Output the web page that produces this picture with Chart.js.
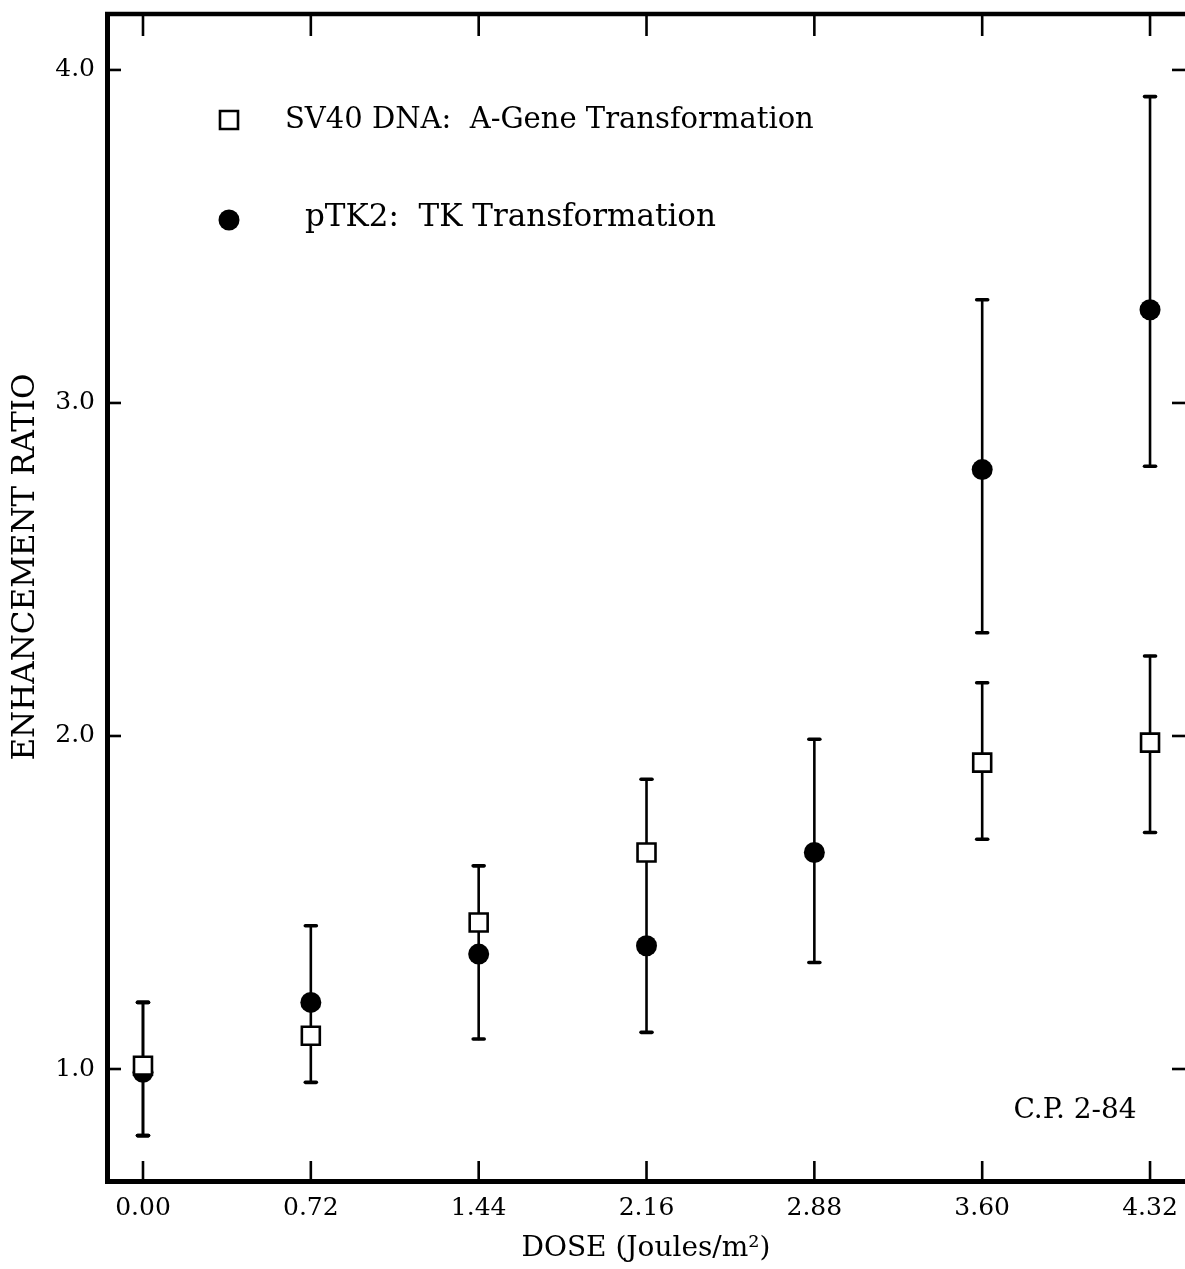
<!DOCTYPE html>
<html>
<head>
<meta charset="utf-8">
<title>Enhancement ratio vs dose</title>
<script src="https://cdn.jsdelivr.net/npm/chart.js@4.4.1/dist/chart.umd.min.js"></script>
<style>
  html, body { margin: 0; padding: 0; background: #ffffff; }
  #wrap { width: 1185px; height: 1269px; }
</style>
</head>
<body>
<div id="wrap"><canvas id="chart" width="1185" height="1269"></canvas></div>
<script>
// UV dose (J/m^2) at which each enhancement ratio was measured
const doses = [0.00, 0.72, 1.44, 2.16, 2.88, 3.60, 4.32];

// SV40 DNA: A-gene transformation (open squares)
const sv40Ratio = [1.01, 1.10, 1.44, 1.65, null, 1.92, 1.98];
const sv40Low   = [0.80, 0.96, 1.345, 1.37, null, 1.69, 1.71];
const sv40High  = [1.20, 1.20, 1.61, 1.87, null, 2.16, 2.24];

// pTK2: TK transformation (filled circles)
const ptkRatio = [0.99, 1.20, 1.345, 1.37, 1.65, 2.80, 3.28];
const ptkLow   = [0.80, 1.20, 1.09, 1.11, 1.32, 2.31, 2.81];
const ptkHigh  = [1.20, 1.43, 1.345, 1.37, 1.99, 3.31, 3.92];

// axis tick values
const xTickValues = [0.00, 0.72, 1.44, 2.16, 2.88, 3.60, 4.32];
const yTickValues = [1.0, 2.0, 3.0, 4.0];

const labelSV40 = 'SV40 DNA:  A-Gene Transformation';
const labelPTK = 'pTK2:  TK Transformation';
const yTitle = 'ENHANCEMENT RATIO';
const xTitle = 'DOSE (Joules/m\u00B2)';

const SERIF = "'DejaVu Serif', 'Liberation Serif', serif";
Chart.defaults.font.family = SERIF;
Chart.defaults.color = '#000000';

function points(values) {
  const out = [];
  values.forEach((v, i) => { if (v !== null) out.push({ x: doses[i], y: v }); });
  return out;
}

// keep the plot frame where the layout puts it, without extra room for overhanging labels
function noOverhang(scale) {
  scale.paddingLeft = 0;
  scale.paddingRight = 0;
  scale.paddingTop = 0;
  scale.paddingBottom = 0;
}

// vertical error bars with short caps, drawn beneath the markers
const errorBars = {
  id: 'errorBars',
  beforeDatasetsDraw(chart) {
    const ctx = chart.ctx;
    const xs = chart.scales.x, ys = chart.scales.y;
    ctx.save();
    ctx.strokeStyle = '#000';
    ctx.lineCap = 'round';
    chart.data.datasets.forEach(ds => {
      const vals = ds.ratio, lo = ds.low, hi = ds.high;
      vals.forEach((v, i) => {
        if (v === null) return;
        const px = xs.getPixelForValue(doses[i]);
        const yl = ys.getPixelForValue(lo[i]);
        const yh = ys.getPixelForValue(hi[i]);
        ctx.lineWidth = 2.6;
        ctx.beginPath();
        ctx.moveTo(px, yl);
        ctx.lineTo(px, yh);
        ctx.stroke();
        ctx.lineWidth = 3.6;
        [[lo[i], yl], [hi[i], yh]].forEach(([val, py]) => {
          if (val === v) return;
          ctx.beginPath();
          ctx.moveTo(px - 5.5, py);
          ctx.lineTo(px + 5.5, py);
          ctx.stroke();
        });
      });
    });
    ctx.restore();
  }
};

// frame, inward tick marks, dose labels, axis title, legend and plate note
const frameAndNotes = {
  id: 'frameAndNotes',
  afterDraw(chart) {
    const ctx = chart.ctx;
    const a = chart.chartArea;
    const xs = chart.scales.x, ys = chart.scales.y;
    ctx.save();
    ctx.strokeStyle = '#000';
    ctx.fillStyle = '#000';

    // top frame line
    ctx.lineWidth = 4.5;
    ctx.beginPath();
    ctx.moveTo(a.left - 2, a.top);
    ctx.lineTo(a.right, a.top);
    ctx.stroke();

    // ticks along top and bottom edges, with dose labels below
    ctx.lineWidth = 2.6;
    ctx.font = '25px ' + SERIF;
    ctx.textAlign = 'center';
    ctx.textBaseline = 'middle';
    xTickValues.forEach(v => {
      const px = xs.getPixelForValue(v);
      ctx.beginPath();
      ctx.moveTo(px, a.top);
      ctx.lineTo(px, a.top + 22);
      ctx.stroke();
      ctx.beginPath();
      ctx.moveTo(px, a.bottom);
      ctx.lineTo(px, a.bottom - 20);
      ctx.stroke();
      ctx.fillText(v.toFixed(2), px, a.bottom + 27);
    });
    // ticks along left and right edges
    yTickValues.forEach(v => {
      const py = ys.getPixelForValue(v);
      ctx.beginPath();
      ctx.moveTo(a.left, py);
      ctx.lineTo(a.left + 14, py);
      ctx.stroke();
      ctx.beginPath();
      ctx.moveTo(a.right, py);
      ctx.lineTo(a.right - 13, py);
      ctx.stroke();
    });

    // vertical axis title
    ctx.save();
    ctx.translate(26, 567);
    ctx.rotate(-Math.PI / 2);
    ctx.font = '31px ' + SERIF;
    ctx.textAlign = 'center';
    ctx.textBaseline = 'middle';
    ctx.fillText(yTitle, 0, 0);
    ctx.restore();

    // legend
    const ds = chart.data.datasets;
    ctx.font = '29px ' + SERIF;
    ctx.textBaseline = 'middle';
    ctx.textAlign = 'left';
    ctx.lineWidth = 2.6;
    ctx.fillStyle = '#fff';
    ctx.beginPath();
    ctx.rect(229 - 9, 120 - 9, 18, 18);
    ctx.fill();
    ctx.stroke();
    ctx.fillStyle = '#000';
    ctx.fillText(ds[0].label, 285, 120);
    ctx.beginPath();
    ctx.arc(229, 220, 10.5, 0, Math.PI * 2);
    ctx.fill();
    ctx.font = '31px ' + SERIF;
    ctx.fillText(ds[1].label, 305, 218);

    // plate note
    ctx.font = '28px ' + SERIF;
    ctx.textAlign = 'center';
    ctx.fillText('C.P. 2-84', 1075, 1111);
    ctx.restore();
  }
};

new Chart(document.getElementById('chart'), {
  type: 'scatter',
  data: {
    datasets: [
      {
        label: labelSV40,
        data: points(sv40Ratio),
        ratio: sv40Ratio, low: sv40Low, high: sv40High,
        pointStyle: 'rect',
        pointRadius: 12.7,
        pointHoverRadius: 12.7,
        pointBorderWidth: 2.6,
        pointBackgroundColor: '#ffffff',
        pointBorderColor: '#000000',
        showLine: false
      },
      {
        label: labelPTK,
        data: points(ptkRatio),
        ratio: ptkRatio, low: ptkLow, high: ptkHigh,
        pointStyle: 'circle',
        pointRadius: 10.5,
        pointHoverRadius: 10.5,
        pointBorderWidth: 0,
        pointBackgroundColor: '#000000',
        pointBorderColor: '#000000',
        showLine: false
      }
    ]
  },
  options: {
    responsive: false,
    animation: false,
    events: [],
    layout: { autoPadding: false, padding: { top: 14, right: 0, left: 0, bottom: 0 } },
    plugins: {
      legend: { display: false },
      tooltip: { enabled: false }
    },
    scales: {
      x: {
        type: 'linear',
        min: -0.1544,
        max: 4.47,
        afterBuildTicks(scale) { scale.ticks = xTickValues.map(v => ({ value: v })); },
        afterFit(scale) { scale.height = 88; noOverhang(scale); },
        grid: { display: false, drawTicks: false },
        border: { display: true, color: '#000', width: 5 },
        ticks: { display: false },
        title: {
          display: true,
          text: xTitle,
          font: { size: 28 },
          color: '#000',
          padding: { top: 0, bottom: 3 }
        }
      },
      y: {
        type: 'linear',
        min: 0.6637,
        max: 4.168,
        afterBuildTicks(scale) { scale.ticks = yTickValues.map(v => ({ value: v })); },
        afterFit(scale) { scale.width = 107; noOverhang(scale); },
        grid: { display: false, drawTicks: false },
        border: { display: true, color: '#000', width: 5 },
        ticks: {
          padding: 12,
          font: { size: 25 },
          color: '#000',
          callback: v => Number(v).toFixed(1)
        },
        title: { display: false }
      }
    }
  },
  plugins: [errorBars, frameAndNotes]
});
</script>
</body>
</html>
